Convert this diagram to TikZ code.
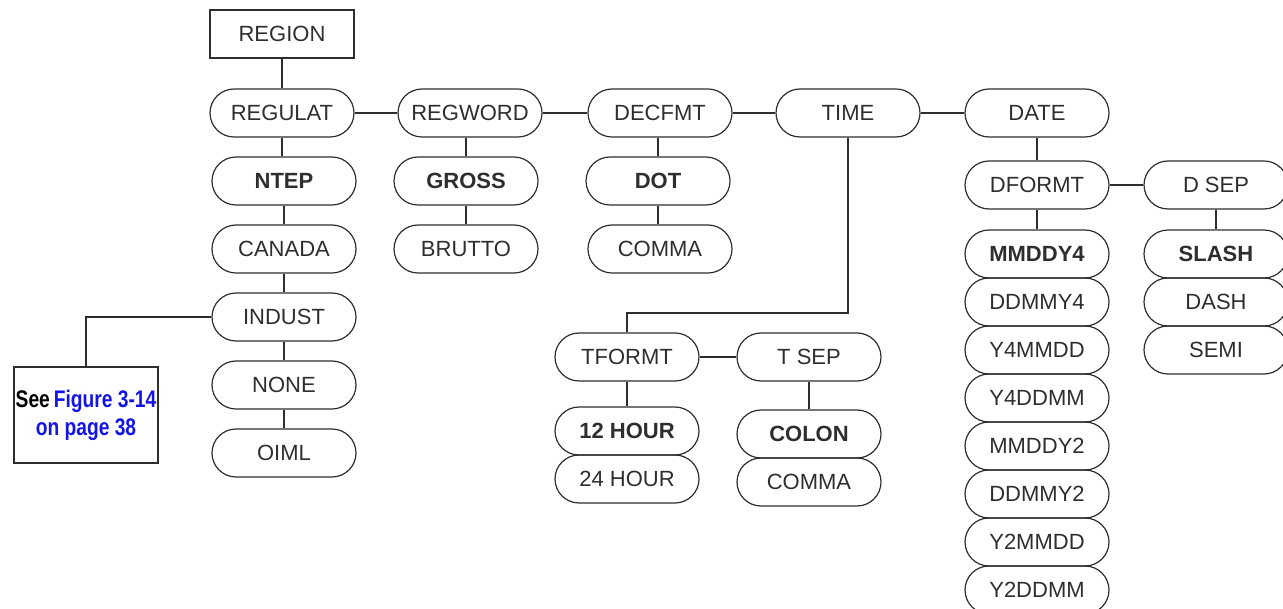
\documentclass[tikz,border=0pt]{standalone}
\usepackage{fontspec}
\setmainfont{Liberation Sans}
\newfontfamily\narrowfont[FakeStretch=0.80]{Liberation Sans}
\usetikzlibrary{shapes.misc}
\definecolor{ink}{HTML}{2E2E2E}
\definecolor{linkblue}{HTML}{1414E6}
\begin{document}
\begin{tikzpicture}[x=1pt,y=-1pt,
  pill/.style={rounded rectangle, draw=ink, line width=1.2pt, minimum width=144pt, minimum height=48pt, inner sep=0pt, text=ink, font=\fontsize{22}{24}\selectfont},
  sel/.style={pill, font=\fontsize{22}{24}\selectfont\bfseries},
  sqbox/.style={rectangle, draw=ink, line width=1.2pt, minimum width=144pt, minimum height=48pt, inner sep=0pt, text=ink, font=\fontsize{22}{24}\selectfont},
  conn/.style={draw=ink, line width=1.2pt}]
\useasboundingbox (0,0) rectangle (1283,609);

% column 1
\node[sqbox] (region) at (282,34) {REGION};
\node[pill] (regulat) at (282,113) {REGULAT};
\node[sel]  (ntep)    at (284,181) {NTEP};
\node[pill] (canada)  at (284,249) {CANADA};
\node[pill] (indust)  at (284,317) {INDUST};
\node[pill] (none)    at (284,385) {NONE};
\node[pill] (oiml)    at (284,453) {OIML};
\node[rectangle, draw=ink, line width=1.2pt, minimum width=144pt, minimum height=96pt, inner sep=0pt, align=center,
      font=\narrowfont\fontsize{24}{28}\selectfont\bfseries] (see) at (86,415)
      {{\color{black}See}\,{\color{linkblue}Figure 3-14}\\{\color{linkblue}on page 38}};

% column 2
\node[pill] (regword) at (470,113) {REGWORD};
\node[sel]  (gross)   at (466,181) {GROSS};
\node[pill] (brutto)  at (466,249) {BRUTTO};

% column 3
\node[pill] (decfmt)  at (660,113) {DECFMT};
\node[sel]  (dot)     at (658,181) {DOT};
\node[pill] (comma)   at (660,249) {COMMA};

% time
\node[pill] (time)    at (848,113) {TIME};
\node[pill] (tformt)  at (627,357) {TFORMT};
\node[pill] (tsep)    at (809,357) {T SEP};
\node[sel]  (h12)     at (627,431) {12 HOUR};
\node[pill] (h24)     at (627,479) {24 HOUR};
\node[sel]  (colon)   at (809,434) {COLON};
\node[pill] (tcomma)  at (809,482) {COMMA};

% date
\node[pill] (date)    at (1037,113) {DATE};
\node[pill] (dformt)  at (1037,185) {DFORMT};
\node[pill] (dsep)    at (1216,185) {D SEP};
\node[sel]  (mmddy4)  at (1037,254) {MMDDY4};
\node[pill] (ddmmy4)  at (1037,302) {DDMMY4};
\node[pill] (y4mmdd)  at (1037,350) {Y4MMDD};
\node[pill] (y4ddmm)  at (1037,398) {Y4DDMM};
\node[pill] (mmddy2)  at (1037,446) {MMDDY2};
\node[pill] (ddmmy2)  at (1037,494) {DDMMY2};
\node[pill] (y2mmdd)  at (1037,542) {Y2MMDD};
\node[pill] (y2ddmm)  at (1037,590) {Y2DDMM};
\node[sel]  (slash)   at (1216,254) {SLASH};
\node[pill] (dash)    at (1216,302) {DASH};
\node[pill] (semi)    at (1216,350) {SEMI};

\coordinate (tj) at (848,313);

% connectors
\draw[conn] (region.south) -- (region.south |- regulat.north);
\draw[conn] (regulat.south) -- (regulat.south |- ntep.north);
\draw[conn] (ntep.south) -- (canada.north);
\draw[conn] (canada.south) -- (indust.north);
\draw[conn] (indust.south) -- (none.north);
\draw[conn] (none.south) -- (oiml.north);
\draw[conn] (indust.west) -| (see.north);

\draw[conn] (regulat.east) -- (regword.west);
\draw[conn] (regword.east) -- (decfmt.west);
\draw[conn] (decfmt.east) -- (time.west);
\draw[conn] (time.east) -- (date.west);

\draw[conn] (gross.north) -- (gross.north |- regword.south);
\draw[conn] (gross.south) -- (brutto.north);
\draw[conn] (dot.north) -- (dot.north |- decfmt.south);
\draw[conn] (dot.south) -- (dot.south |- comma.north);

\draw[conn] (time.south) -- (tj) -| (tformt.north);
\draw[conn] (tformt.east) -- (tsep.west);
\draw[conn] (tformt.south) -- (h12.north);
\draw[conn] (tsep.south) -- (colon.north);

\draw[conn] (date.south) -- (dformt.north);
\draw[conn] (dformt.east) -- (dsep.west);
\draw[conn] (dformt.south) -- (mmddy4.north);
\draw[conn] (dsep.south) -- (slash.north);
\end{tikzpicture}
\end{document}
